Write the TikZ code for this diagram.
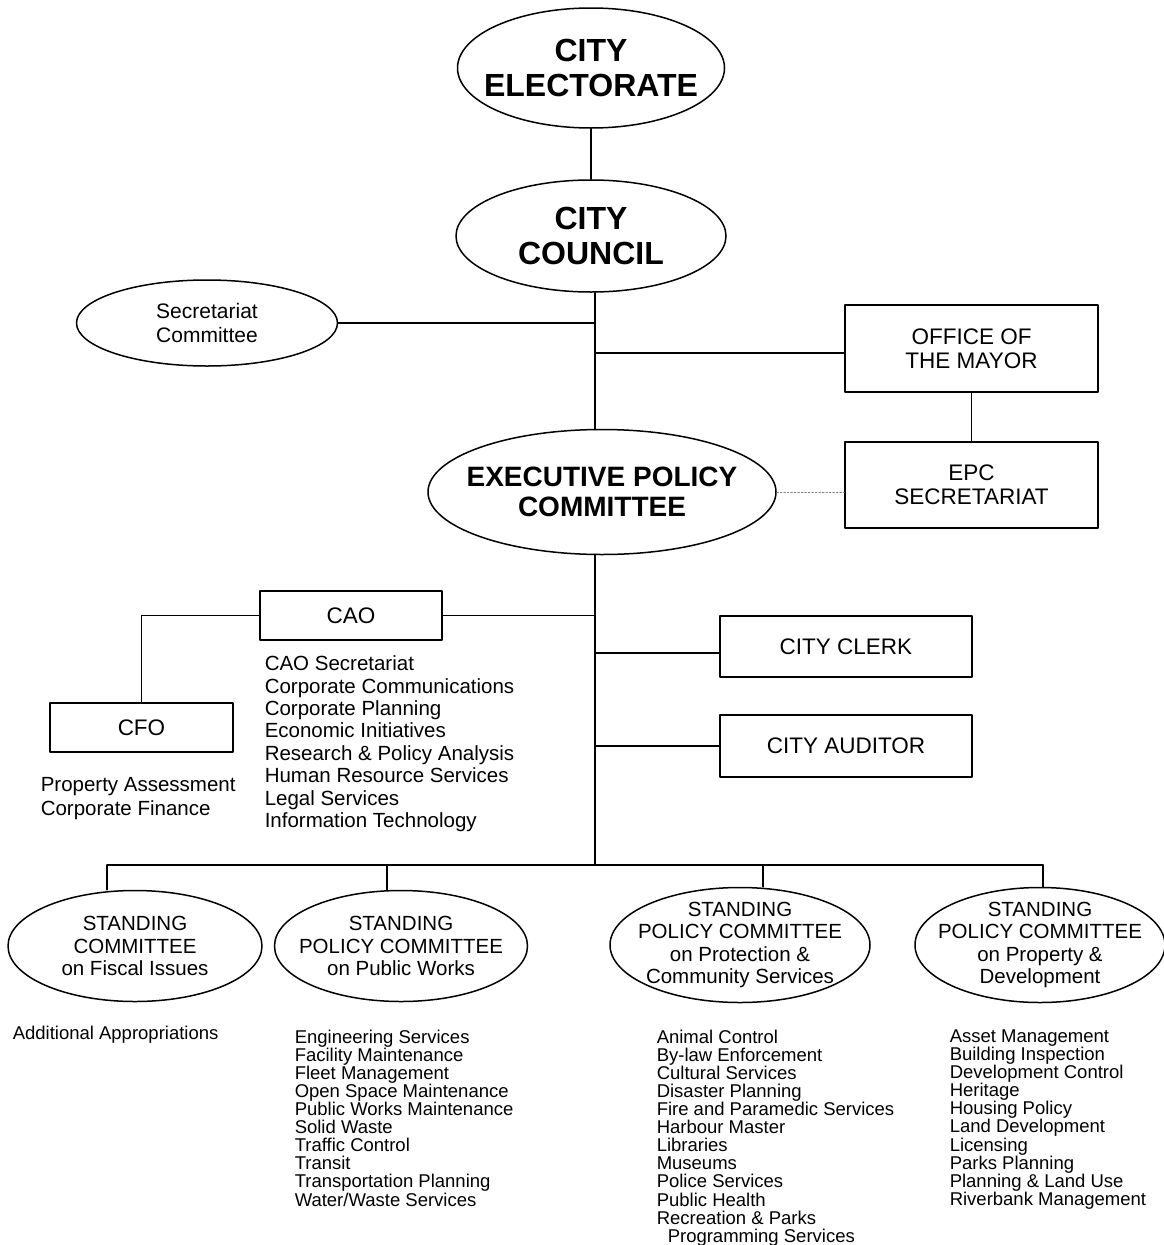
\documentclass[tikz,border=0pt]{standalone}
\usepackage{fontspec}
\setmainfont{Liberation Sans}
\usetikzlibrary{shapes.geometric}
\tikzstyle{every path}=[line width=1.5pt,line cap=round,line join=round]
\tikzstyle{oval}=[draw,ellipse,inner sep=0pt]
\tikzstyle{ovaltext}=[inner sep=0pt,align=center]
\tikzstyle{box}=[draw,rectangle,line width=2pt,inner sep=0pt,align=center,font=\fontsize{22.5}{24}\selectfont]
\tikzstyle{list}=[anchor=north west,inner sep=0pt,align=left]

\begin{document}
\begin{tikzpicture}[x=1pt,y=-1pt]
% City government chart, units are pixels of the scan
	\newcommand\Bus{865} %height of the bottom bus line
	\newcommand\SCfont{\fontsize{20.5}{22.5}\selectfont} %font of the standing committees
	\useasboundingbox (0,0) rectangle (1164,1245);
	%Top of the chart
	\node[oval, minimum width=267, minimum height=120, label={[ovaltext, font=\fontsize{32}{35}\selectfont\bfseries]center:CITY\\ELECTORATE}] (CE) at (591,68) {};
	\node[oval, minimum width=270, minimum height=112, label={[ovaltext, font=\fontsize{32}{35}\selectfont\bfseries]center:CITY\\COUNCIL}] (CC) at (591,236) {};
	\node[oval, minimum width=261, minimum height=86, label={[ovaltext, font=\fontsize{21}{24}\selectfont]center:Secretariat\\Committee}] (SC) at (207,323) {};
	\node[box, minimum width=253, minimum height=87] (OM) at (971.5,348.5) {OFFICE OF\\THE MAYOR};
	\node[box, minimum width=253, minimum height=86] (EPCS) at (971.5,485) {EPC\\SECRETARIAT};
	\node[oval, minimum width=348, minimum height=125, label={[ovaltext, font=\fontsize{28}{30}\selectfont\bfseries]center:EXECUTIVE POLICY\\COMMITTEE}] (EPC) at (602,492) {};
	\coordinate (BM) at (595,\Bus); %BM = bus middle, bottom of the trunk
	\draw (CE) -- (CC);
	\draw (CC.south -| BM) -- (EPC.north -| BM);
	\draw (SC.east) -- (SC.east -| BM);
	\draw (OM.west |- 0,353) -- (BM |- 0,353);
	\draw (OM) -- (EPCS);
	\draw[dotted, line width=1pt, gray] (EPC.east) -- (EPC.east -| EPCS.west);
	%Administration
	\node[box, minimum width=182, minimum height=49] (CAO) at (351,615.5) {CAO};
	\node[box, minimum width=183, minimum height=49] (CFO) at (141.5,727.5) {CFO};
	\node[box, minimum width=252, minimum height=61] (CK) at (846,646.5) {CITY CLERK};
	\node[box, minimum width=252, minimum height=62] (CA) at (846,746) {CITY AUDITOR};
	\node[list, font=\fontsize{20.5}{22.4}\selectfont] (CAOL) at (264,655) {CAO Secretariat\\Corporate Communications\\Corporate Planning\\Economic Initiatives\\Research \& Policy Analysis\\Human Resource Services\\Legal Services\\Information Technology};
	\node[list, font=\fontsize{20.5}{24}\selectfont] (CFOL) at (40,777) {Property Assessment\\Corporate Finance};
	\draw (EPC.south -| BM) -- (BM);
	\draw (CAO.east) -- (CAO.east -| BM);
	\draw (CAO.west) -| (CFO.north);
	\draw (CK.west |- 0,653) -- (BM |- 0,653);
	\draw (CA.west) -- (CA.west -| BM);
	%Standing committees
	\node[oval, minimum width=254, minimum height=111, label={[ovaltext, font=\SCfont]center:STANDING\\COMMITTEE\\on Fiscal Issues}] (SC1) at (135,946) {};
	\node[oval, minimum width=253, minimum height=111, label={[ovaltext, font=\SCfont]center:STANDING\\POLICY COMMITTEE\\on Public Works}] (SC2) at (401,946) {};
	\node[oval, minimum width=260, minimum height=115, label={[ovaltext, font=\SCfont]center:STANDING\\POLICY COMMITTEE\\on Protection \&\\Community Services}] (SC3) at (740,945) {};
	\node[oval, minimum width=250, minimum height=115, label={[ovaltext, font=\SCfont]center:STANDING\\POLICY COMMITTEE\\on Property \&\\Development}] (SC4) at (1040,945) {};
	\coordinate (D1) at (107,\Bus); % D1..D4 = drop points on the bus
	\coordinate (D2) at (387,\Bus);
	\coordinate (D3) at (763,\Bus);
	\coordinate (D4) at (1043,\Bus);
	\draw (D1) -- (D4);
	\foreach \d/\s in {D1/SC1,D2/SC2,D3/SC3,D4/SC4}
		\draw (\d) -- (\d |- \s.north);
	%Service lists
	\node[list, font=\fontsize{18.5}{18.1}\selectfont] (L1) at (12,1025) {Additional Appropriations};
	\node[list, font=\fontsize{18.5}{18.1}\selectfont] (L2) at (294,1029) {Engineering Services\\Facility Maintenance\\Fleet Management\\Open Space Maintenance\\Public Works Maintenance\\Solid Waste\\Traffic Control\\Transit\\Transportation Planning\\Water/Waste Services};
	\node[list, font=\fontsize{18.5}{18.1}\selectfont] (L3) at (656,1029) {Animal Control\\By-law Enforcement\\Cultural Services\\Disaster Planning\\Fire and Paramedic Services\\Harbour Master\\Libraries\\Museums\\Police Services\\Public Health\\Recreation \& Parks\\\hspace*{11pt}Programming Services};
	\node[list, font=\fontsize{18.5}{18.1}\selectfont] (L4) at (949,1029) {Asset Management\\Building Inspection\\Development Control\\Heritage\\Housing Policy\\Land Development\\Licensing\\Parks Planning\\Planning \& Land Use\\Riverbank Management};
\end{tikzpicture}
\end{document}
